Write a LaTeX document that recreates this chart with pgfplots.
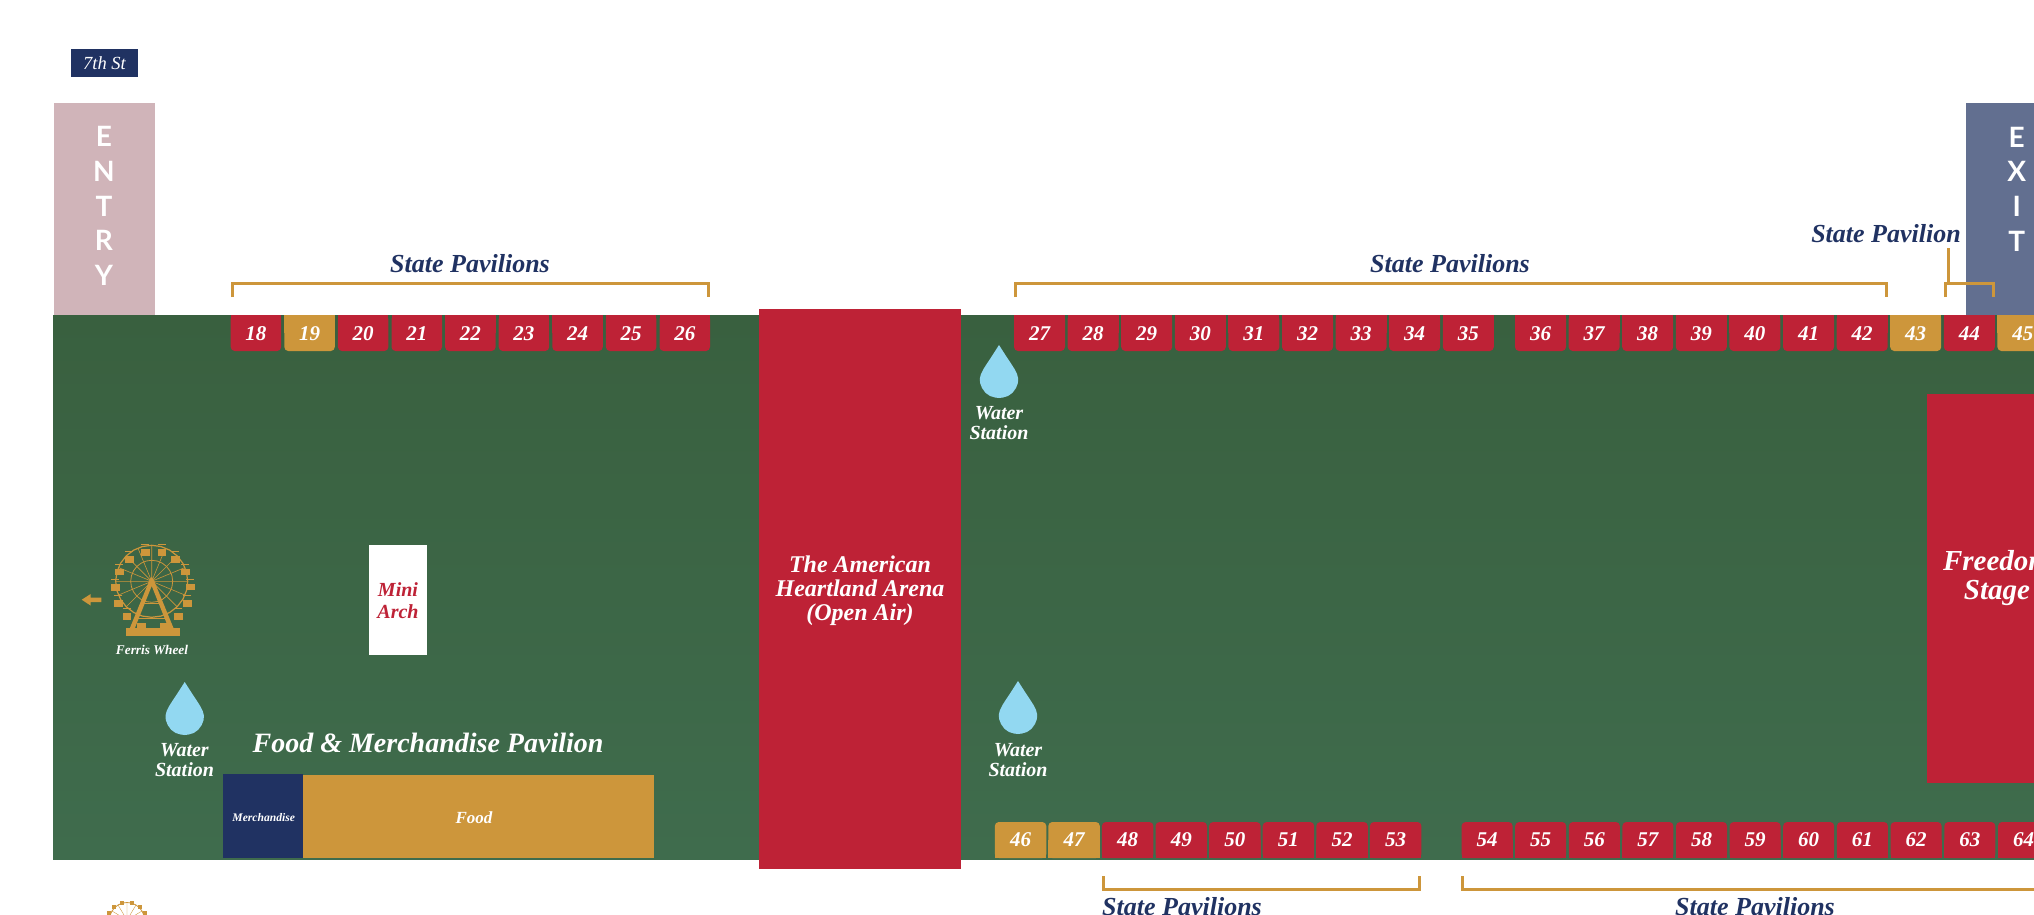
\documentclass[border=0pt]{standalone}
\usepackage{fontspec}
\setmainfont{Liberation Serif}
\newfontfamily\signfont{Lato}
\usepackage{pgfplots}
\usepackage{pgfplotstable}
\pgfplotsset{compat=1.18}

\definecolor{fieldtop}{HTML}{39603F}
\definecolor{fieldbot}{HTML}{3F6C4D}
\definecolor{pavred}{HTML}{BE2236}
\definecolor{pavgold}{HTML}{CD963B}
\definecolor{navy}{HTML}{203262}
\definecolor{entrypink}{HTML}{D0B4B9}
\definecolor{exitblue}{HTML}{626F90}
\definecolor{waterblue}{HTML}{92D8F1}

% drop outline, relative to top centre
\pgfplotstableread{
x y
0 0
3.5 5.5
8 12.5
12 18.5
15.5 24
18 29
19.2 33.5
18.9 38
17 43
13.5 47.8
9 51
4 52.5
0 53
-4 52.5
-9 51
-13.5 47.8
-17 43
-18.9 38
-19.2 33.5
-18 29
-15.5 24
-12 18.5
-8 12.5
-3.5 5.5
}\dropshape

% unit ring for the wheels
\pgfplotstableread{
x y
1 0
0.966 0.259
0.866 0.5
0.707 0.707
0.5 0.866
0.259 0.966
0 1
-0.259 0.966
-0.5 0.866
-0.707 0.707
-0.866 0.5
-0.966 0.259
-1 0
-0.966 -0.259
-0.866 -0.5
-0.707 -0.707
-0.5 -0.866
-0.259 -0.966
0 -1
0.259 -0.966
0.5 -0.866
0.707 -0.707
0.866 -0.5
0.966 -0.259
}\ringshape

\newcommand{\ser}[1]{\fontsize{#1}{#1}\selectfont\bfseries\itshape}

% block: x0 x1 ytop ybot colour
\newcommand{\block}[5]{\addplot[fill=#5,draw=none] coordinates {(#1,#3) (#2,#3) (#2,#4) (#1,#4)} --cycle;}

% top row pavilion: x0 x1 number colour
\newcommand{\pavT}[4]{
  \addplot[fill=#4,draw=none,rounded corners=4pt] coordinates {(#1,316) (#2,316) (#2,352) (#1,352)} --cycle;
  \addplot[fill=#4,draw=none] coordinates {(#1,316) (#2,316) (#2,334) (#1,334)} --cycle;
  \addplot[draw=none] coordinates {(#1,335) (#2,335)} node[pos=0.5,text=white,font=\ser{21}] {#3};
}
% bottom row pavilion
\newcommand{\pavB}[4]{
  \addplot[fill=#4,draw=none,rounded corners=4pt] coordinates {(#1,823) (#2,823) (#2,859) (#1,859)} --cycle;
  \addplot[fill=#4,draw=none] coordinates {(#1,841) (#2,841) (#2,859) (#1,859)} --cycle;
  \addplot[draw=none] coordinates {(#1,841) (#2,841)} node[pos=0.5,text=white,font=\ser{21}] {#3};
}
\newcommand{\drop}[2]{\addplot[fill=waterblue,draw=none] table[x expr=\thisrow{x}+#1,y expr=\thisrow{y}+#2] {\dropshape} --cycle;}
\newcommand{\ring}[4]{\addplot[draw=pavgold,line width=#4] table[x expr=#1+#3*\thisrow{x},y expr=#2+#3*\thisrow{y}] {\ringshape} --cycle;}
\newcommand{\txt}[5]{\node[text=#4,align=center,font=\ser{#3}] at (axis cs:#1,#2) {#5};}
\newcommand{\sign}[3]{\node[text=white,font=\signfont\bfseries\fontsize{28}{28}\selectfont] at (axis cs:#1,#2) {#3};}

\begin{document}
\begin{tikzpicture}
\useasboundingbox (0,0) rectangle (2034pt,915pt);
\begin{axis}[
    at={(0,0)},anchor=south west,
    scale only axis,
    width=2034pt,height=915pt,
    xmin=0,xmax=2034,ymin=1,ymax=916,
    y dir=reverse,
    hide axis,
    clip=true,
]
% grounds
\addplot[draw=none,top color=fieldtop,bottom color=fieldbot] coordinates {(53,316) (2040,316) (2040,860) (53,860)} --cycle;
\block{54}{155}{104}{316}{entrypink}
\block{1966}{2040}{104}{316}{exitblue}
\block{71}{138}{50}{78}{navy}
\block{759}{961}{310}{870}{pavred}
\block{1927}{2067}{395}{784}{pavred}
\block{369}{427}{546}{656}{white}
\block{223}{303}{775}{859}{navy}
\block{303}{654}{776}{859}{pavgold}

% brackets
\addplot[draw=pavgold,line width=3pt] coordinates {(232,298) (232,284.5) (708.5,284.5) (708.5,298)};
\addplot[draw=pavgold,line width=3pt] coordinates {(1015.5,298) (1015.5,284.5) (1886.5,284.5) (1886.5,298)};
\addplot[draw=pavgold,line width=3pt] coordinates {(1945.5,298) (1945.5,284.5) (1993.5,284.5) (1993.5,298)};
\addplot[draw=pavgold,line width=3pt] coordinates {(1948.3,249) (1948.3,284.5)};
\addplot[draw=pavgold,line width=3pt] coordinates {(1103.5,877) (1103.5,890) (1419.5,890) (1419.5,877)};
\addplot[draw=pavgold,line width=3pt] coordinates {(1462.5,877) (1462.5,890) (2100,890)};

% top row
\pavT{230.7}{281.2}{18}{pavred}
\pavT{284.3}{334.8}{19}{pavgold}
\pavT{337.9}{388.4}{20}{pavred}
\pavT{391.5}{442}{21}{pavred}
\pavT{445.1}{495.6}{22}{pavred}
\pavT{498.7}{549.2}{23}{pavred}
\pavT{552.3}{602.8}{24}{pavred}
\pavT{605.9}{656.4}{25}{pavred}
\pavT{659.5}{710}{26}{pavred}
\pavT{1014}{1065}{27}{pavred}
\pavT{1067.6}{1118.6}{28}{pavred}
\pavT{1121.2}{1172.2}{29}{pavred}
\pavT{1174.8}{1225.8}{30}{pavred}
\pavT{1228.4}{1279.4}{31}{pavred}
\pavT{1282}{1333}{32}{pavred}
\pavT{1335.6}{1386.6}{33}{pavred}
\pavT{1389.2}{1440.2}{34}{pavred}
\pavT{1442.8}{1493.8}{35}{pavred}
\pavT{1515}{1566}{36}{pavred}
\pavT{1568.6}{1619.6}{37}{pavred}
\pavT{1622.2}{1673.2}{38}{pavred}
\pavT{1675.8}{1726.8}{39}{pavred}
\pavT{1729.4}{1780.4}{40}{pavred}
\pavT{1783}{1834}{41}{pavred}
\pavT{1836.6}{1887.6}{42}{pavred}
\pavT{1890.2}{1941.2}{43}{pavgold}
\pavT{1943.8}{1994.8}{44}{pavred}
\pavT{1997.4}{2048.4}{45}{pavgold}

% bottom row
\pavB{994.8}{1046.3}{46}{pavgold}
\pavB{1048.3}{1099.8}{47}{pavgold}
\pavB{1101.9}{1153.4}{48}{pavred}
\pavB{1155.5}{1207}{49}{pavred}
\pavB{1209.1}{1260.6}{50}{pavred}
\pavB{1262.7}{1314.2}{51}{pavred}
\pavB{1316.3}{1367.8}{52}{pavred}
\pavB{1369.9}{1421.4}{53}{pavred}
\pavB{1461.6}{1512.6}{54}{pavred}
\pavB{1515.2}{1566.2}{55}{pavred}
\pavB{1568.8}{1619.8}{56}{pavred}
\pavB{1622.4}{1673.4}{57}{pavred}
\pavB{1676}{1727}{58}{pavred}
\pavB{1729.6}{1780.6}{59}{pavred}
\pavB{1783.2}{1834.2}{60}{pavred}
\pavB{1836.9}{1887.9}{61}{pavred}
\pavB{1890.6}{1941.6}{62}{pavred}
\pavB{1944.3}{1995.3}{63}{pavred}
\pavB{1998}{2049}{64}{pavred}

% water
\drop{999}{346}
\drop{1018}{682}
\drop{184.7}{683}

% ferris wheel
\ring{151.7}{582.3}{36}{1.2pt}
\ring{151.7}{582.3}{21}{0.8pt}
\addplot[draw=pavgold,line width=0.6pt] coordinates {
 (151.7,582.3) (187.7,582.3) (151.7,582.3) (185,568.5) (151.7,582.3) (177.2,556.8)
 (151.7,582.3) (165.5,549) (151.7,582.3) (151.7,546.3) (151.7,582.3) (137.9,549)
 (151.7,582.3) (126.2,556.8) (151.7,582.3) (118.4,568.5) (151.7,582.3) (115.7,582.3)
 (151.7,582.3) (118.4,596.1) (151.7,582.3) (126.2,607.8) (151.7,582.3) (137.9,615.6)
 (151.7,582.3) (165.5,615.6) (151.7,582.3) (177.2,607.8) (151.7,582.3) (185,596.1)};
% gondolas and the bars they hang from
\addplot[only marks,mark=square*,mark size=2.8pt,mark options={xscale=1.35},color=pavgold] coordinates {
 (145,553) (161.7,553) (175,560.3) (185,572.7) (190,587.7) (187.3,604.3) (178.3,617)
 (164,626.7) (141,626.7) (126.7,617) (118.3,604.3) (115,588.3) (119,572.7) (129,560.3)};
\addplot[only marks,mark=-,mark size=4pt,mark options={line width=1.1pt},color=pavgold] coordinates {
 (145,545.5) (161.7,545.5) (175,552.8) (185,565.2) (190,580.2) (187.3,596.8) (178.3,609.5)
 (164,619.2) (141,619.2) (126.7,609.5) (118.3,596.8) (115,580.8) (119,565.2) (129,552.8)};
\addplot[fill=pavgold,draw=none] coordinates {(151.7,578) (154.2,582) (173.5,629) (168.5,629) (151.7,587) (134.9,629) (129.9,629) (149.2,582)} --cycle;
\addplot[draw=pavgold,line width=0.9pt] coordinates {(143,604) (160,604)};
\addplot[draw=pavgold,line width=0.9pt] coordinates {(137,619) (166,619)};
\block{126.3}{180.3}{629}{637.3}{pavgold}
\addplot[fill=pavgold,draw=none] coordinates {(81.7,600.7) (90.7,595) (90.7,598.6) (101.3,598.6) (101.3,603) (90.7,603) (90.7,606.6)} --cycle;

% small wheel of the logo, cut by the edge
\ring{127}{921}{17.5}{0.8pt}
\addplot[only marks,mark=square*,mark size=1.6pt,color=pavgold] coordinates {(122,904) (132,904) (114,908) (140,908) (109,914) (145,914)};
\addplot[draw=pavgold,line width=0.4pt] coordinates {(127,921) (127,904) (127,921) (136,906) (127,921) (142,912) (127,921) (118,906) (127,921) (112,912)};

% signs
\sign{104}{137.5}{E}
\sign{104}{172.5}{N}
\sign{104}{207.5}{T}
\sign{104}{241.5}{R}
\sign{104}{276.5}{Y}
\sign{2016.7}{138.5}{E}
\sign{2016.7}{172.5}{X}
\sign{2016.7}{207.5}{I}
\sign{2016.7}{242.5}{T}

\node[text=white,font=\fontsize{18.5}{18.5}\selectfont\itshape] at (axis cs:104.5,64) {7th St};
\txt{470}{265}{26}{navy}{State Pavilions}
\txt{1450}{265}{26}{navy}{State Pavilions}
\txt{1886}{235}{26}{navy}{State Pavilion}
\txt{1182}{908}{26}{navy}{State Pavilions}
\txt{1755}{908}{26}{navy}{State Pavilions}
\txt{860}{592}{24}{white}{The American\\Heartland Arena\\(Open Air)}
\txt{1997}{579}{29}{white}{Freedom\\Stage}
\txt{398}{601.5}{20}{pavred}{Mini\\[2.5pt]Arch}
\txt{999}{424}{20}{white}{Water\\Station}
\txt{1018}{761}{20}{white}{Water\\Station}
\txt{184.5}{761}{20}{white}{Water\\Station}
\txt{152}{651}{13.3}{white}{Ferris Wheel}
\txt{428}{744}{28}{white}{Food \& Merchandise Pavilion}
\txt{263.7}{819}{11.6}{white}{Merchandise}
\txt{474}{819}{17}{white}{Food}
\end{axis}
\end{tikzpicture}
\end{document}
